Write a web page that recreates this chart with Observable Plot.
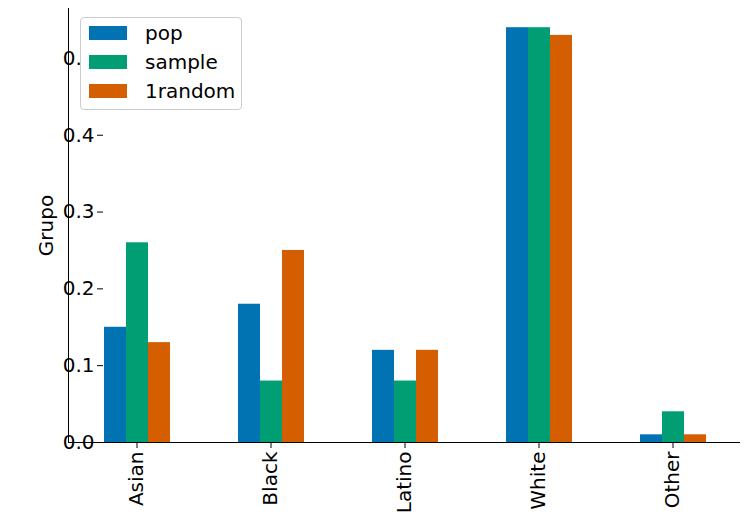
<!DOCTYPE html>
<html><head>
<script src="https://cdn.jsdelivr.net/npm/d3@7"></script>
<script src="https://cdn.jsdelivr.net/npm/@observablehq/plot@0.6"></script>
<style>
body{margin:0;background:#fff;font-family:"DejaVu Sans",sans-serif}
#wrap{position:relative;width:745px;height:518px}
.leg{position:absolute;left:80px;top:17px;width:160px;height:91px;border:1px solid #ccc;border-radius:4px;background:#fff;font-size:20px}
.leg div{display:flex;align-items:center;height:29px;margin-left:8px}
.leg span{display:inline-block;width:38px;height:14px;margin-right:18px}
</style>
</head><body>
<div id="wrap"></div>
<script>
const grupos = ["Asian", "Black", "Latino", "White", "Other"]
const series = ["pop", "sample", "1random"]
const colores = ["#0173b2", "#029e73", "#d55e00"]
const pop = [0.15, 0.18, 0.12, 0.54, 0.01]
const sample = [0.26, 0.08, 0.08, 0.54, 0.04]
const random1 = [0.13, 0.25, 0.12, 0.53, 0.01]

const valores = [pop, sample, random1]
const data = grupos.flatMap((g, i) => series.map((s, j) => ({grupo: g, serie: s, valor: valores[j][i]})))

const chart = Plot.plot({
  width: 745, height: 518,
  marginLeft: 68, marginRight: 5, marginTop: 8, marginBottom: 76,
  style: {fontSize: "20px", fontFamily: "DejaVu Sans", color: "#000"},
  fx: {domain: grupos, paddingInner: 0.5, paddingOuter: 0.25, label: null, tickRotate: -90, tickSize: 6},
  x: {domain: series, padding: 0, axis: null},
  y: {domain: [0, 0.565], ticks: [0, 0.1, 0.2, 0.3, 0.4, 0.5], tickFormat: ".1f", label: "Grupo", labelAnchor: "center", labelArrow: "none", tickSize: 6},
  color: {domain: series, range: colores},
  marks: [
    Plot.barY(data, {fx: "grupo", x: "serie", y: "valor", fill: "serie"})
  ]
})
const wrap = document.getElementById("wrap")
wrap.append(chart)
const line = document.createElement("div")
line.style.cssText = "position:absolute;left:68px;top:8px;width:1px;height:434px;background:#000"
wrap.append(line)
const base = document.createElement("div")
base.style.cssText = "position:absolute;left:68px;top:442px;width:672px;height:1px;background:#000"
wrap.append(base)
const leg = document.createElement("div")
leg.className = "leg"
series.forEach((s, j) => {
  const r = document.createElement("div")
  r.innerHTML = `<span style="background:${colores[j]}"></span>${s}`
  leg.append(r)
})
wrap.append(leg)
</script>
</body></html>
